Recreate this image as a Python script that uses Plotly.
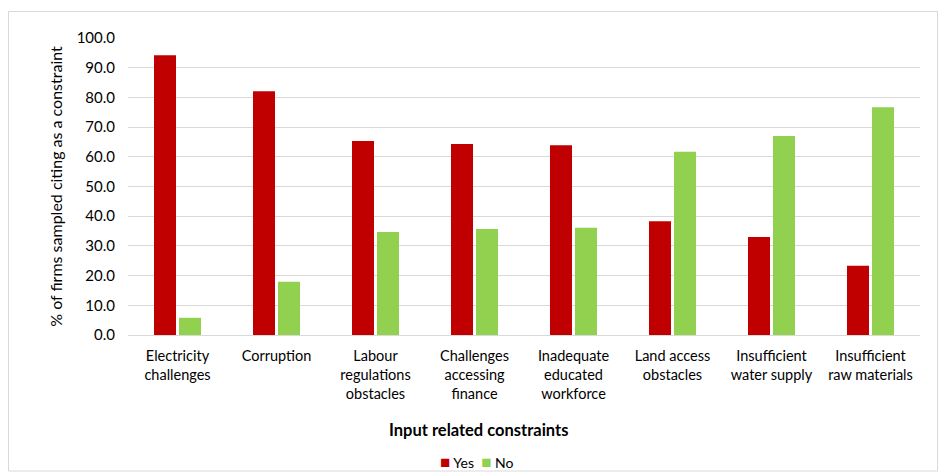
import plotly.graph_objects as go

# Constraint categories (x axis) and share of firms answering Yes / No
categories = [
    "Electricity<br>challenges",
    "Corruption",
    "Labour<br>regulations<br>obstacles",
    "Challenges<br>accessing<br>finance",
    "Inadequate<br>educated<br>workforce",
    "Land access<br>obstacles",
    "Insufficient<br>water supply",
    "Insufficient<br>raw materials",
]
series_names = ["Yes", "No"]
yes_values = [94.2, 82.1, 65.3, 64.3, 63.9, 38.3, 33.0, 23.3]
no_values = [5.8, 17.9, 34.7, 35.7, 36.1, 61.7, 67.0, 76.7]

FONT = "Lato, Carlito, Calibri, sans-serif"
COLORS = ["#C00000", "#92D050"]
W, H = 942, 473
ML, MR, MT, MB = 128, 22, 38, 138

fig = go.Figure()
for name, vals, col in zip(series_names, [yes_values, no_values], COLORS):
    fig.add_trace(go.Bar(name=name, x=categories, y=vals,
                         marker=dict(color=col, line=dict(width=0))))

pw = W - ML - MR
ph = H - MT - MB

def px_x(x):
    return (x - ML) / pw

def px_y(y):
    return (H - MB - y) / ph

# compact legend row: coloured square followed by the series name
legend_text = "&nbsp;&nbsp;".join(
    f"<span style='color:{c};font-size:17px'>■</span> {n}"
    for n, c in zip(series_names, COLORS)
)

fig.update_layout(
    width=W, height=H,
    margin=dict(l=ML, r=MR, t=MT, b=MB, autoexpand=False),
    paper_bgcolor="white", plot_bgcolor="white",
    barmode="group", bargap=0.495, bargroupgap=0.12,
    font=dict(family=FONT, size=14, color="#000000"),
    showlegend=False,
    xaxis=dict(showgrid=False, showline=True, linecolor="#d9d9d9",
               linewidth=1, ticks="", tickfont=dict(size=14.5),
               ticklabelstandoff=8, automargin=False),
    yaxis=dict(range=[0, 100], dtick=10, tickformat=".1f",
               showgrid=True, gridcolor="#d9d9d9", gridwidth=1,
               zeroline=False, showline=False, ticks="",
               ticklabelstandoff=12, tickfont=dict(size=15),
               automargin=False,
               title=dict(text="% of firms sampled citing as a constraint",
                          font=dict(size=16), standoff=10)),
    annotations=[
        dict(text="<b>Input related constraints</b>", xref="paper", yref="paper",
             x=px_x(478), y=px_y(430), xanchor="center", yanchor="middle",
             showarrow=False, font=dict(size=16.5)),
        dict(text=legend_text, xref="paper", yref="paper",
             x=px_x(476), y=px_y(461), xanchor="center", yanchor="middle",
             showarrow=False, font=dict(size=14)),
    ],
    shapes=[
        dict(type="rect", xref="paper", yref="paper",
             x0=px_x(8.5), x1=px_x(937.5), y0=px_y(11.5), y1=px_y(471),
             line=dict(color="#d9d9d9", width=1), fillcolor="rgba(0,0,0,0)",
             layer="below"),
    ],
)

fig.write_html("out.html")
